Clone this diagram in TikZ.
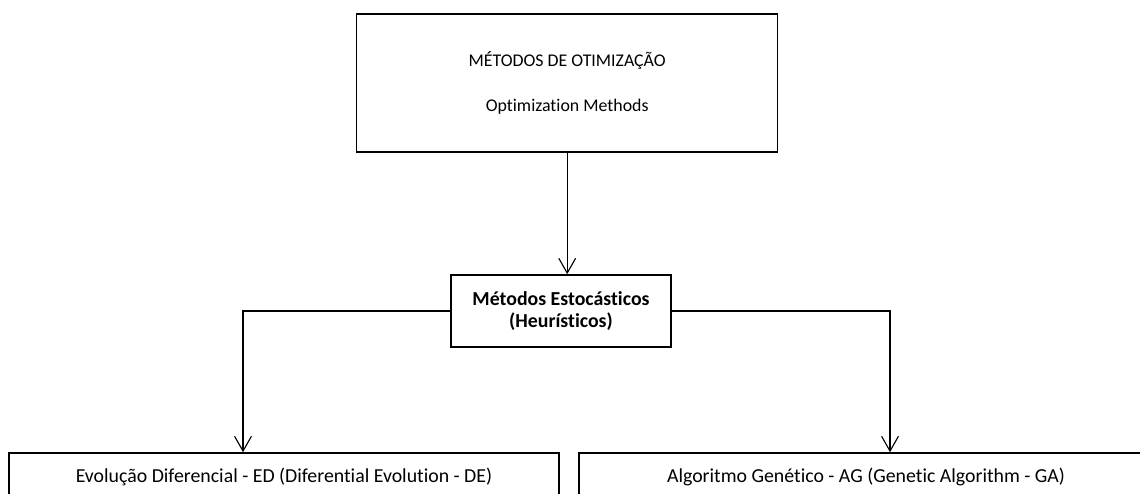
\documentclass[tikz,border=0pt]{standalone}
\usepackage{fontspec}
\setmainfont{Carlito}[Ligatures=CommonOff]
\usetikzlibrary{arrows.meta,positioning,calc}

\begin{document}
\begin{tikzpicture}[
    box/.style={draw=black, line width=1.1pt, align=center, inner sep=0pt},
    link/.style={line width=0.75pt},
    arrowlink/.style={link, -{Straight Barb[length=3.7mm, width=4.2mm, line width=0.8pt]}}
]
    % Frame
    \clip (0,0) rectangle (28.5,-12.325);

    % --- Top box ---
    \node[box, minimum width=10.525cm, minimum height=3.45cm, font=\fontsize{12.7}{32}\selectfont] (otim) at (14.18,-2.075) {MÉTODOS DE OTIMIZAÇÃO\\Optimization Methods};

    % --- Middle box ---
    \node[box, minimum width=5.5cm, minimum height=1.8cm, font=\bfseries\fontsize{14.1}{15.7}\selectfont] (estoc) at (14.025,-7.775) {Métodos Estocásticos\\(Heurísticos)};

    % --- Bottom boxes ---
    \node[box, minimum width=13.75cm, minimum height=1.2cm, font=\fontsize{14.1}{17}\selectfont] (ed) at (7.1,-11.925) {Evolução Diferencial - ED (Diferential Evolution - DE)};
    \node[box, minimum width=14.35cm, minimum height=1.2cm, font=\fontsize{14.1}{17}\selectfont] (ag) at (21.65,-11.925) {Algoritmo Genético - AG (Genetic Algorithm - GA)};

    % Arrows
    \draw[arrowlink] (otim.south) -- (otim.south |- estoc.north);
    \draw[arrowlink] (estoc.west) -| ([xshift=-1.025cm]ed.north);
    \draw[arrowlink] (estoc.east) -| ([xshift=0.6cm]ag.north);

\end{tikzpicture}
\end{document}
